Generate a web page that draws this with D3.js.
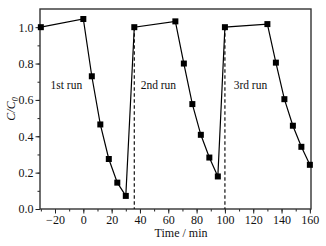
<!DOCTYPE html>
<html>
<head>
<meta charset="utf-8">
<script src="https://cdn.jsdelivr.net/npm/d3@7"></script>
<style>
  body { margin: 0; background: #fff; }
  text { font-family: "Liberation Serif", "DejaVu Serif", serif; }
</style>
</head>
<body>
<div class="canvas"></div>
<script>
// data
const times = [-30, 0, 6, 12, 18, 24, 30, 36, 65, 71, 77, 83, 89, 95, 100, 130, 136, 142, 148, 154, 160]
const ratios = [1.0, 1.045, 0.73, 0.465, 0.275, 0.145, 0.072, 1.0, 1.032, 0.80, 0.577, 0.408, 0.283, 0.179, 1.0, 1.017, 0.805, 0.604, 0.458, 0.342, 0.243]
const runStarts = [36, 100]
const runLabels = ["1st run", "2nd run", "3rd run"]
const runLabelX = [-12, 53, 118]
const xTicks = [-20, 0, 20, 40, 60, 80, 100, 120, 140, 160]
const yTicks = [0.0, 0.2, 0.4, 0.6, 0.8, 1.0]

const data = times.map((t, i) => ({t: t, v: ratios[i]}))

/**
 * Graph dimensions
 */
const margin = {top: 9, right: 15, bottom: 37, left: 40}
const graphWidth = 326 - margin.left - margin.right
const graphHeight = 246 - margin.top - margin.bottom

const svg = d3.select(".canvas")
    .append("svg")
    .attr("width", 326)
    .attr("height", 246)

const graph = svg.append("g")
    .attr("transform", `translate(${margin.left},${margin.top})`)

/**
 * Scales & axis
 */
const x = d3.scaleLinear().domain([-30.6, 160.8]).range([0, graphWidth])
const y = d3.scaleLinear().domain([0, 1.1]).range([graphHeight, 0])

// minor ticks first, then major ones on top
const xMinor = d3.axisBottom(x).tickValues(d3.range(-30, 161, 10)).tickSize(2.5).tickFormat("")
const yMinor = d3.axisLeft(y).tickValues(d3.range(0, 1.05, 0.1)).tickSize(2.5).tickFormat("")
graph.append("g").attr("transform", `translate(0,${graphHeight})`).call(xMinor)
graph.append("g").call(yMinor)

const xAxisGroup = graph.append("g")
    .attr("class", "x-axis")
    .attr("transform", `translate(0,${graphHeight})`)
    .call(d3.axisBottom(x).tickValues(xTicks).tickSize(4.5).tickPadding(2))
const yAxisGroup = graph.append("g")
    .attr("class", "y-axis")
    .call(d3.axisLeft(y).tickValues(yTicks).tickSize(4.5).tickPadding(2).tickFormat(d3.format(".1f")))

graph.selectAll(".domain").remove()
graph.selectAll(".tick line").attr("stroke", "#222").attr("stroke-width", 1)
graph.selectAll(".tick text").attr("fill", "#111").style("font-size", "12px")

// frame
graph.append("rect")
    .attr("width", graphWidth)
    .attr("height", graphHeight)
    .attr("fill", "none")
    .attr("stroke", "#333")
    .attr("stroke-width", 1.4)

// dashed run separators
graph.selectAll(".sep")
    .data(runStarts)
    .enter()
    .append("line")
        .attr("x1", d => x(d)).attr("x2", d => x(d))
        .attr("y1", y(1.0)).attr("y2", y(0))
        .attr("stroke", "#111")
        .attr("stroke-width", 1.2)
        .style("stroke-dasharray", "3.5, 2.5")

/**
 * Line and markers
 */
const line = d3.line()
    .x(d => x(d.t))
    .y(d => y(d.v))

graph.append("path")
    .datum(data)
    .attr("fill", "none")
    .attr("stroke", "#000")
    .attr("stroke-width", 1.2)
    .attr("d", line)

graph.selectAll(".pt")
    .data(data)
    .enter()
    .append("rect")
        .attr("x", d => x(d.t) - 3)
        .attr("y", d => y(d.v) - 3)
        .attr("width", 6)
        .attr("height", 6)
        .attr("fill", "#000")

// run annotations
graph.selectAll(".run")
    .data(runLabels)
    .enter()
    .append("text")
        .attr("x", (d, i) => x(runLabelX[i]))
        .attr("y", 80)
        .attr("text-anchor", "middle")
        .style("font-size", "11.5px")
        .attr("fill", "#111")
        .text(d => d)

// axis titles
svg.append("text")
    .attr("x", margin.left + x(69))
    .attr("y", 237)
    .attr("text-anchor", "middle")
    .style("font-size", "12px")
    .attr("fill", "#111")
    .text("Time / min")

const yTitle = svg.append("text")
    .attr("transform", `translate(15,${margin.top + y(0.55)}) rotate(-90)`)
    .attr("text-anchor", "middle")
    .style("font-size", "12px")
    .style("font-style", "italic")
    .attr("fill", "#111")
yTitle.append("tspan").text("C/C")
yTitle.append("tspan").attr("dy", 2.5).style("font-size", "8px").text("0")
</script>
</body>
</html>
